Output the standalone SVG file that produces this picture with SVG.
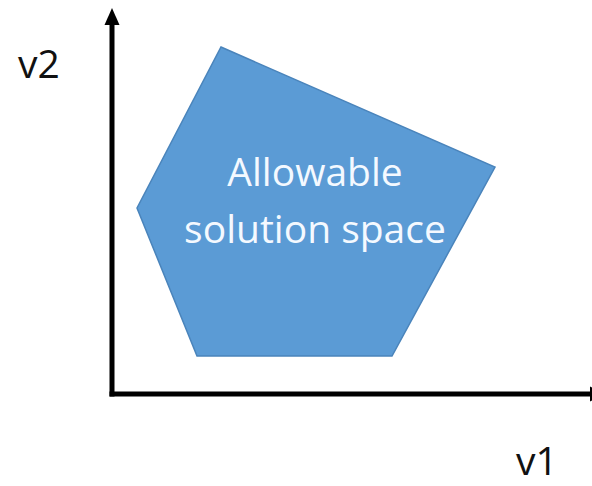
<svg xmlns="http://www.w3.org/2000/svg" width="592" height="486" viewBox="0 0 592 486">
  <style>
    .axis { fill: none; stroke: #000; stroke-width: 5; stroke-linecap: square; }
    .lbl { font-family: "Open Sans", "Liberation Sans", sans-serif; font-size: 39px; fill: #111; }
    .inner { font-family: "Open Sans", "Liberation Sans", sans-serif; font-size: 39px; fill: #f4f9ff; text-anchor: middle; }
    .region { fill: #5b9bd5; stroke: #4a84bb; stroke-width: 1.5; }
  </style>
  <defs>
    <marker id="arrow" markerUnits="userSpaceOnUse" markerWidth="18" markerHeight="16" refX="0" refY="8" orient="auto">
      <path d="M0,0.5 L17,8 L0,15.5 z" fill="#000"/>
    </marker>
  </defs>
  <rect width="592" height="486" fill="#fff"/>
  <g id="solution-space">
    <polygon class="region" points="221,47 495,167 392,356 197,356 137,208"/>
    <text class="inner" x="315" y="186">Allowable</text>
    <text class="inner" x="315" y="243">solution space</text>
  </g>
  <g id="connectors">
    <path class="axis" d="M112,394 V25" marker-end="url(#arrow)"/>
    <path class="axis" d="M112,394 H590" marker-end="url(#arrow)"/>
  </g>
  <g id="v2-label">
    <text class="lbl" x="18" y="78">v2</text>
  </g>
  <g id="v1-label">
    <text class="lbl" x="516" y="475">v1</text>
  </g>
</svg>
